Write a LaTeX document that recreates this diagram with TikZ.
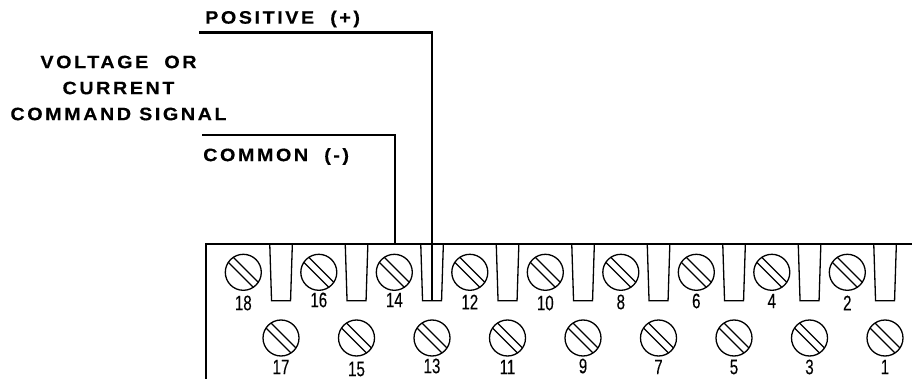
\documentclass[tikz,border=0pt]{standalone}
\usepackage{fontspec}
\setmainfont{Liberation Sans}
\newfontfamily\lblfont[LetterSpace=14,FakeStretch=1.1,FakeBold=0.3]{Liberation Sans Bold}
\newfontfamily\numfont[FakeStretch=0.72,FakeBold=0.1]{Liberation Sans}
\usetikzlibrary{positioning,calc}
\tikzset{
    wire/.style={line width=2.4pt},
    edgeline/.style={line width=1.7pt},
    thin part/.style={line width=1.3pt},
    lbl/.style={inner sep=0pt,font=\lblfont\fontsize{18}{26}\selectfont},
    termno/.style={inner sep=0pt,font=\numfont\fontsize{21}{21}\selectfont},
    screwhead/.style={circle,draw,thin part,minimum size=36pt,inner sep=0pt}
}
\begin{document}
\begin{tikzpicture}[x=1pt,y=-1pt]
    \useasboundingbox (0,0) rectangle (912,379);
    % terminal strip outline
    \draw[edgeline] (205.7,379) -- (205.7,244) -- (912,244);
    % upper row with the wire clamps
    \foreach \n/\x/\ly in {18/243.3/303,16/318.8/300,14/394.3/300,12/469.8/302,10/545.3/303,8/620.8/302,6/696.3/301,4/771.8/301,2/847.3/303} {
        \node[screwhead] (screw\n) at (\x,272.3) {};
        \draw[thin part] ($(screw\n)+(-10,-15)$) -- ($(screw\n)+(15,10)$);
        \draw[thin part] ($(screw\n)+(-15,-10)$) -- ($(screw\n)+(10,15)$);
        \node[termno] (no\n) at (\x,\ly) {\n};
        \coordinate (clamp\n) at (\x+37.75,300.7);
        \draw[thin part] ($(clamp\n)+(-11.3,-56.7)$) -- ($(clamp\n)+(-9.5,0)$) -- ($(clamp\n)+(9.5,0)$) -- ($(clamp\n)+(11.3,-56.7)$);
    }
    % lower row
    \foreach \n/\x/\ly in {17/281/367,15/356.5/369,13/432/366,11/507.5/367,9/583/366,7/658.5/367,5/734/367,3/809.5/367,1/885/367} {
        \node[screwhead] (screw\n) at (\x,338) {};
        \draw[thin part] ($(screw\n)+(-10,-15)$) -- ($(screw\n)+(15,10)$);
        \draw[thin part] ($(screw\n)+(-15,-10)$) -- ($(screw\n)+(10,15)$);
        \node[termno] (no\n) at (\x,\ly) {\n};
    }
    % signal wires
    \coordinate (posend) at (199,32.5);
    \coordinate (comend) at (202,135);
    \coordinate (comtop) at (395,244);
    \draw[wire] (posend) -| (clamp14);
    \draw[wire] (comend) -| (comtop);
    \node[lbl,anchor=west] (poslabel) at (205,19) {POSITIVE\ \ (+)};
    \node[lbl,align=center] (cmdlabel) at (118.5,88) {VOLTAGE\ \ OR\\CURRENT\\COMMAND SIGNAL};
    \node[lbl,anchor=west] (comlabel) at (203,156.5) {COMMON\ \ (-)};
\end{tikzpicture}
\end{document}
